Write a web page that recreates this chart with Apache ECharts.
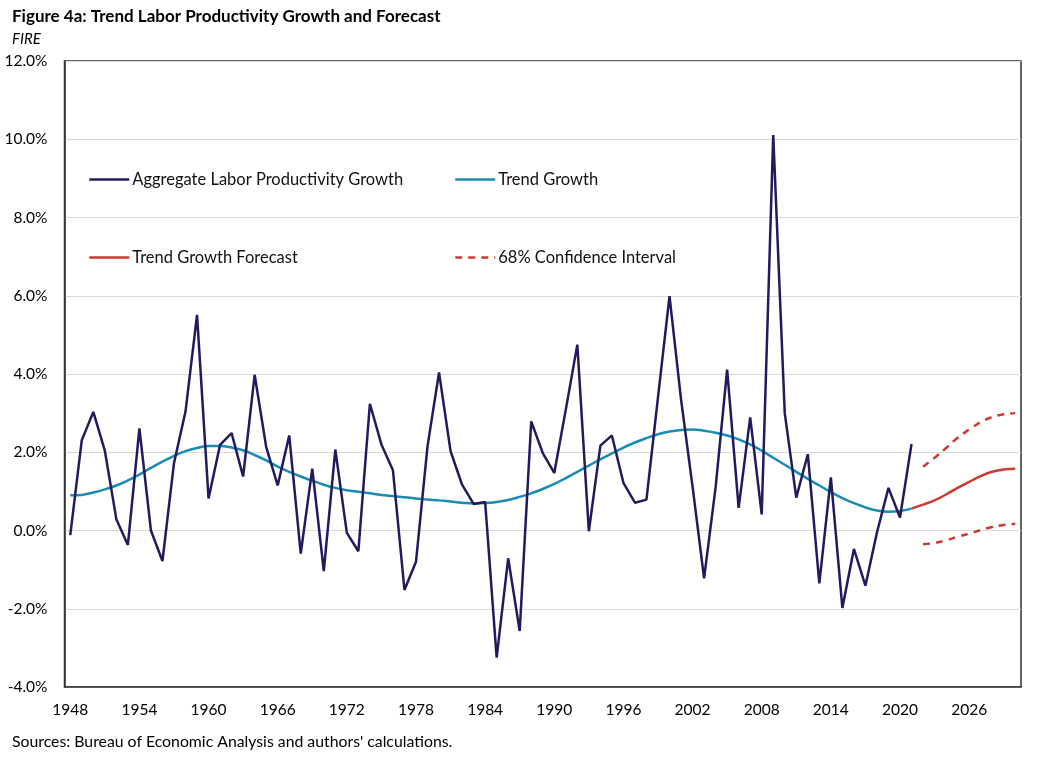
<!DOCTYPE html>
<html>
<head>
<meta charset="utf-8">
<script src="https://cdn.jsdelivr.net/npm/echarts@6/dist/echarts.min.js"></script>
<style>
html,body{margin:0;padding:0;background:#fff;}
#chart{width:1044px;height:758px;}
</style>
</head>
<body>
<div id="chart"></div>
<script>
// ---- data ----
const firstYear = 1948;
const lastYear = 2030;
const aggregateStart = 1948;
const aggregate = [
  -0.12, 2.31, 3.03, 2.04, 0.29, -0.37, 2.61, 0.00, -0.78, 1.72,
  3.04, 5.51, 0.82, 2.19, 2.49, 1.38, 3.98, 2.14, 1.15, 2.43,
  -0.59, 1.58, -1.04, 2.07, -0.06, -0.53, 3.24, 2.20, 1.54, -1.52,
  -0.80, 2.15, 4.04, 2.03, 1.17, 0.68, 0.73, -3.25, -0.71, -2.57,
  2.79, 1.98, 1.47, 3.09, 4.75, -0.02, 2.17, 2.43, 1.22, 0.71,
  0.79, 3.40, 5.99, 3.35, 1.12, -1.22, 1.10, 4.11, 0.58, 2.89,
  0.41, 10.11, 3.00, 0.84, 1.95, -1.35, 1.36, -1.98, -0.47, -1.41,
  -0.05, 1.09, 0.33, 2.21
];
const trendStart = 1948;
const trend = [
  0.90, 0.91, 0.97, 1.05, 1.15, 1.28, 1.43, 1.60, 1.76, 1.91,
  2.03, 2.11, 2.16, 2.16, 2.12, 2.05, 1.93, 1.79, 1.63, 1.50,
  1.38, 1.27, 1.17, 1.09, 1.03, 0.99, 0.95, 0.91, 0.88, 0.85,
  0.82, 0.79, 0.77, 0.74, 0.71, 0.69, 0.70, 0.73, 0.78, 0.86,
  0.95, 1.06, 1.19, 1.34, 1.50, 1.66, 1.82, 1.97, 2.12, 2.25,
  2.36, 2.46, 2.53, 2.57, 2.58, 2.55, 2.50, 2.43, 2.33, 2.20,
  2.04, 1.86, 1.68, 1.50, 1.32, 1.15, 0.98, 0.83, 0.70, 0.59,
  0.51, 0.48, 0.50, 0.56
];
const forecastStart = 2021;
const forecast = [0.56, 0.66, 0.77, 0.92, 1.09, 1.24, 1.39, 1.50, 1.56, 1.58];
const ciStart = 2022;
const upperCI = [1.63, 1.86, 2.11, 2.37, 2.58, 2.77, 2.90, 2.97, 3.00];
const lowerCI = [-0.35, -0.32, -0.25, -0.16, -0.08, 0.01, 0.09, 0.14, 0.17];
const yTicks = { min: -4, max: 12, step: 2 };

const seriesNames = [
  'Aggregate Labor Productivity Growth',
  'Trend Growth',
  'Trend Growth Forecast',
  '68% Confidence Interval'
];

// ---- build ----
const years = [];
for (let y = firstYear; y <= lastYear; y++) years.push(String(y));
function pad(start, arr) {
  return years.map(function (y) {
    const i = Number(y) - start;
    return (i >= 0 && i < arr.length) ? arr[i] : null;
  });
}

const NAVY = '#201b5e';
const TEAL = '#1a8bb3';
const RED = '#cc3a31';
const FONT = 'Lato, "Open Sans", sans-serif';

const chart = echarts.init(document.getElementById('chart'), null, { renderer: 'canvas' });

function legendAt(name, left, top) {
  return {
    data: [name],
    left: left, top: top,
    padding: 0,
    itemWidth: 40, itemHeight: 14,
    itemGap: 0,
    selectedMode: false,
    itemStyle: { opacity: 0 },
    lineStyle: { width: 2.5 },
    textStyle: { fontFamily: FONT, fontSize: 16.5, color: '#111', padding: [0, 0, 0, -2] }
  };
}

chart.setOption({
  animation: false,
  backgroundColor: '#fff',
  title: [
    { text: 'Figure 4a: Trend Labor Productivity Growth and Forecast', left: 12, top: 8,
      padding: 0,
      textStyle: { fontFamily: FONT, fontSize: 17, fontWeight: 'bold', color: '#000' } },
    { text: 'FIRE', left: 12, top: 32, padding: 0,
      textStyle: { fontFamily: FONT, fontSize: 15, fontStyle: 'italic', fontWeight: 'normal', color: '#000' } },
    { text: "Sources: Bureau of Economic Analysis and authors' calculations.", left: 12, top: 734, padding: 0,
      textStyle: { fontFamily: FONT, fontSize: 15.8, fontWeight: 'normal', color: '#000' } }
  ],
  legend: [
    legendAt(seriesNames[0], 88, 171),
    legendAt(seriesNames[1], 454, 171),
    legendAt(seriesNames[2], 88, 249),
    legendAt(seriesNames[3], 454, 249)
  ],
  grid: {
    left: 64.5, right: 23, top: 61, bottom: 71,
    show: true, borderColor: '#333333', borderWidth: 1.5, backgroundColor: 'transparent'
  },
  xAxis: {
    type: 'category',
    data: years,
    boundaryGap: true,
    axisLine: { onZero: false, lineStyle: { color: '#333333', width: 1.5 } },
    axisTick: { show: false },
    axisLabel: { interval: 5, margin: 15, fontFamily: FONT, fontSize: 15.5, color: '#000' },
    splitLine: { show: false }
  },
  yAxis: {
    type: 'value',
    min: yTicks.min, max: yTicks.max, interval: yTicks.step,
    axisLine: { show: true, lineStyle: { color: '#333333', width: 1.5 } },
    axisTick: { show: false },
    axisLabel: { margin: 17, fontFamily: FONT, fontSize: 15.5, color: '#000',
      formatter: function (v) { return v.toFixed(1) + '%'; } },
    splitLine: { lineStyle: { color: '#d9d9d9', width: 1 } }
  },
  series: [
    { name: seriesNames[0], type: 'line', data: pad(aggregateStart, aggregate),
      symbol: 'none', lineStyle: { color: NAVY, width: 2.5 }, itemStyle: { color: NAVY }, z: 3 },
    { name: seriesNames[1], type: 'line', data: pad(trendStart, trend), smooth: 0.4,
      symbol: 'none', lineStyle: { color: TEAL, width: 2.5 }, itemStyle: { color: TEAL }, z: 2 },
    { name: seriesNames[2], type: 'line', data: pad(forecastStart, forecast), smooth: 0.4,
      symbol: 'none', lineStyle: { color: RED, width: 2.5 }, itemStyle: { color: RED }, z: 2 },
    { name: seriesNames[3], type: 'line', data: pad(ciStart, upperCI), smooth: 0.4,
      symbol: 'none', lineStyle: { color: RED, width: 2.5, type: [7, 6] }, itemStyle: { color: RED }, z: 2 },
    { name: seriesNames[3], type: 'line', data: pad(ciStart, lowerCI), smooth: 0.4,
      symbol: 'none', lineStyle: { color: RED, width: 2.5, type: [7, 6] }, itemStyle: { color: RED }, z: 2 }
  ]
});
</script>
</body>
</html>
